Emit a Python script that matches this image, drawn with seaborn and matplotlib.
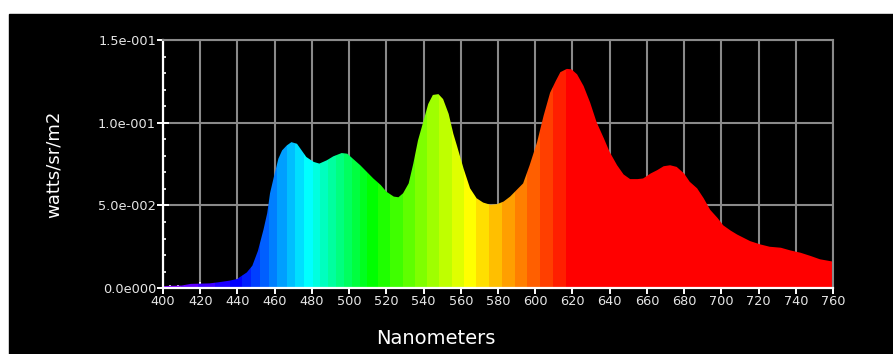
#!/usr/bin/env python3
"""
Spectral radiance of a lamp, 400-760 nm, filled with the visible colours.
"""

import numpy as np
import matplotlib
matplotlib.use("Agg")
import matplotlib.pyplot as plt
from matplotlib.patches import Polygon, Rectangle
from matplotlib.ticker import MultipleLocator, FixedLocator, FixedFormatter
import seaborn as sns


# ── Data ─────────────────────────────────────────────────────────────────────
wavelength_nm = [
    400, 410, 415, 425, 430, 436, 440, 441, 445, 448, 451, 454, 456, 457.5,
    460, 462, 464, 466.5, 469, 472, 474.5, 477, 481, 484, 488, 491.5, 496,
    499, 502, 506, 509.5, 513, 517, 520, 524, 526.5, 529, 532, 534.5, 537,
    540, 542.5, 545, 548, 550.5, 553.5, 556, 558, 561.5, 565, 568.5, 572,
    576, 579.5, 583, 586.5, 590, 593.5, 597, 601, 604.5, 608, 611, 613.5,
    617, 619.5, 622.5, 626, 629.5, 633, 637, 640, 644, 647.5, 651, 655, 658,
    662, 665.5, 669, 672.5, 676, 680, 683, 687, 690.5, 694, 698, 701, 705,
    708.5, 712, 715.5, 721, 726, 732, 737, 742.5, 748, 753, 760,
]
radiance = [
    0.0012, 0.0015, 0.0025, 0.0028, 0.0035, 0.0045, 0.0055, 0.0064, 0.0094,
    0.0135, 0.0225, 0.0354, 0.0454, 0.0574, 0.0694, 0.0784, 0.0834, 0.0864,
    0.0884, 0.0874, 0.0834, 0.0794, 0.0764, 0.0754, 0.0774, 0.0798, 0.0818,
    0.0814, 0.0784, 0.0744, 0.0704, 0.0664, 0.0624, 0.0584, 0.0554, 0.0550,
    0.0574, 0.0634, 0.0754, 0.0894, 0.1014, 0.1115, 0.1170, 0.1175, 0.1145,
    0.1055, 0.0935, 0.0860, 0.0724, 0.0604, 0.0544, 0.0518, 0.0504, 0.0508,
    0.0524, 0.0554, 0.0594, 0.0634, 0.0744, 0.0884, 0.1044, 0.1184, 0.1254,
    0.1308, 0.1328, 0.1325, 0.1295, 0.1224, 0.1124, 0.1004, 0.0904, 0.0824,
    0.0744, 0.0688, 0.0660, 0.0660, 0.0664, 0.0694, 0.0714, 0.0738, 0.0744,
    0.0734, 0.0694, 0.0644, 0.0604, 0.0544, 0.0474, 0.0424, 0.0380, 0.0348,
    0.0324, 0.0304, 0.0284, 0.0264, 0.0250, 0.0244, 0.0228, 0.0214, 0.0194,
    0.0174, 0.0160,
]

x_ticks = list(range(400, 761, 20))
y_ticks = [0.0, 0.05, 0.10, 0.15]
y_tick_labels = ["0.0e000", "5.0e-002", "1.0e-001", "1.5e-001"]


# ── Colour of a wavelength (quantised like the original software) ────────────
def wavelength_colours(wl):
    pts = [400, 420, 440, 478, 512, 565, 620, 760]
    r = np.interp(wl, pts, [0.55, 0.3, 0.0, 0.0, 0.0, 1.0, 1.0, 1.0])
    g = np.interp(wl, pts, [0.0, 0.0, 0.0, 1.0, 1.0, 1.0, 0.0, 0.0])
    b = np.interp(wl, pts, [1.0, 1.0, 1.0, 1.0, 0.0, 0.0, 0.0, 0.0])
    rgb = np.stack([r, g, b], axis=-1)
    return np.clip(np.round(rgb * 8) / 8, 0, 1)


# ── Figure ───────────────────────────────────────────────────────────────────
sns.set_theme(style="dark", rc={
    "axes.facecolor": "black",
    "axes.edgecolor": "white",
    "grid.color": "#8a8a8a",
    "text.color": "white",
    "axes.labelcolor": "white",
    "xtick.color": "white",
    "ytick.color": "white",
})
plt.rcParams["font.family"] = ["DejaVu Sans"]

fig = plt.figure(figsize=(8.93, 3.54), dpi=100)
fig.patch.set_facecolor("white")
# black panel (white strip on top and on the left)
fig.add_artist(Rectangle((9 / 893, 0), 884 / 893, 340 / 354,
                         transform=fig.transFigure, color="black", zorder=-1))

ax = fig.add_axes([163 / 893, 66 / 354, 670 / 893, 247.5 / 354])
ax.set_xlim(400, 760)
ax.set_ylim(0, 0.15)

# spectrum: colour strip image clipped to the area under the curve
wl_grid = np.arange(400, 760.5, 0.5)
img = wavelength_colours(wl_grid)[np.newaxis, :, :]
im = ax.imshow(img, extent=(400, 760, 0, 0.15), aspect="auto",
               interpolation="nearest", origin="lower", zorder=1)
area = Polygon(
    np.column_stack([
        [wavelength_nm[0]] + wavelength_nm + [wavelength_nm[-1]],
        [0] + radiance + [0],
    ]),
    closed=True, facecolor="none", edgecolor="none",
)
ax.add_patch(area)
im.set_clip_path(area)

# grid + axes
ax.set_axisbelow(True)
ax.grid(True, which="major", color="#8a8a8a", linewidth=1.5)
ax.xaxis.set_major_locator(FixedLocator(x_ticks))
ax.xaxis.set_minor_locator(MultipleLocator(4))
ax.yaxis.set_major_locator(FixedLocator(y_ticks))
ax.yaxis.set_major_formatter(FixedFormatter(y_tick_labels))
ax.yaxis.set_minor_locator(MultipleLocator(0.01))

for side in ("left", "bottom"):
    ax.spines[side].set_color("white")
    ax.spines[side].set_linewidth(1.6)
for side in ("top", "right"):
    ax.spines[side].set_color("#8a8a8a")
    ax.spines[side].set_linewidth(1.5)
    ax.spines[side].set_visible(True)

ax.tick_params(axis="both", which="major", direction="inout", length=8,
               width=1.4, colors="white", labelcolor="#e6e6e6",
               labelsize=9.3, pad=1)
ax.tick_params(axis="both", which="minor", direction="in", length=2.5,
               width=1.2, colors="white")
ax.tick_params(axis="x", which="both", bottom=True)
ax.tick_params(axis="y", which="both", left=True)

ax.set_xlabel("Nanometers", fontsize=14, color="white")
ax.xaxis.set_label_coords(0.4075, -0.165)
ax.set_ylabel("watts/sr/m2", fontsize=13, color="white")
ax.yaxis.set_label_coords(-0.15, 0.5)

fig.savefig("out.png", dpi=100, facecolor=fig.get_facecolor())
plt.close(fig)
